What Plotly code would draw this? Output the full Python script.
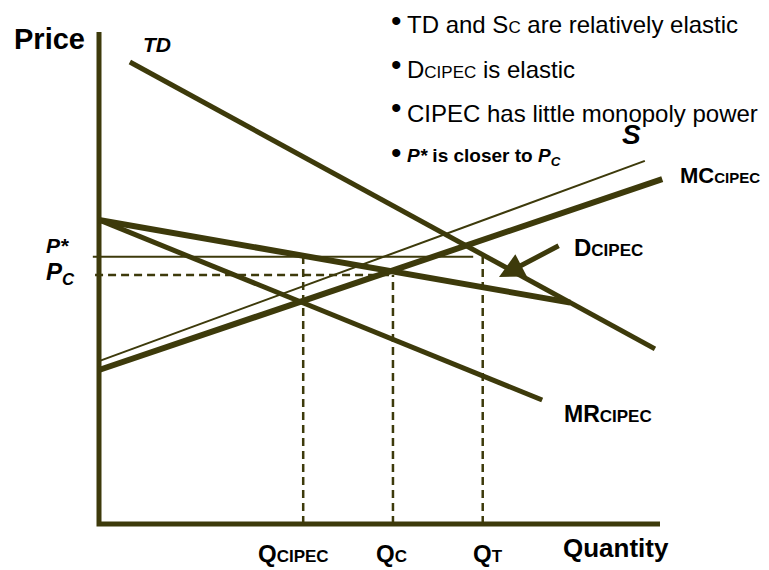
import plotly.graph_objects as go

# ---- data (quantity 0..100, price 0..100 in diagram units) ----
td_q = [5.5, 99.1]
td_p = [93.9, 35.6]
dcipec_q = [0.0, 84.0]
dcipec_p = [61.8, 45.0]
mr_q = [0.0, 79.0]
mr_p = [61.8, 25.2]
s_q = [0.0, 97.3]
s_p = [33.1, 73.8]
mc_q = [0.0, 100.4]
mc_p = [31.3, 70.1]

p_star = 54.3
p_c = 50.6
q_cipec = 36.4
q_c = 52.4
q_t = 68.4
p_star_line_q = [-1.1, 66.7]
p_c_line_q = [-0.7, q_c]

axis_q = [0.0, 0.0, 100.0]
axis_p = [100.0, 0.0, 0.0]

arrow_tip = (71.3, 50.2)
arrow_tail = (82.2, 56.7)

W, H = 769, 570
OFF = 8                      # page body margin
FW, FH = W - OFF, H - OFF    # figure size
# pixel mapping of the diagram units (page pixels)
X0, PXQ = 99.0, 5.61
Y0, PXP = 524.0, 4.92

COL = "#3d3a0b"
FONT = "Liberation Sans, Arial, sans-serif"

fig = go.Figure()

def line(q, p, width, dash="solid"):
    fig.add_trace(go.Scatter(x=q, y=p, mode="lines",
                             line=dict(color=COL, width=width, dash=dash),
                             hoverinfo="skip", showlegend=False))

# axes
line(axis_q, axis_p, 5)
# curves
line(td_q, td_p, 5)
line(s_q, s_p, 2)
line(mc_q, mc_p, 6)
line(dcipec_q, dcipec_p, 6)
line(mr_q, mr_p, 5)
# price levels
line(p_star_line_q, [p_star, p_star], 2)
line(p_c_line_q, [p_c, p_c], 2.5, dash="8px,5px")
# quantity drops
line([q_cipec, q_cipec], [0, p_star], 2.5, dash="8px,5px")
line([q_c, q_c], [0, p_c], 2.5, dash="8px,5px")
line([q_t, q_t], [0, p_star], 2.5, dash="8px,5px")

ann = []
def txt(px, py, text, size, xanchor="center", color="black"):
    ann.append(dict(x=(px - OFF) / FW, y=1 - (py - OFF) / FH, xref="paper", yref="paper",
                    text=text, showarrow=False, xanchor=xanchor, yanchor="middle",
                    font=dict(family=FONT, size=size, color=color)))

def small(t, size):
    return '<span style="font-size:%dpx">%s</span>' % (size, t)

txt(49, 39, "<b>Price</b>", 29)
txt(157, 45, "<b><i>TD</i></b>", 21)
txt(57, 245, "<b><i>P*</i></b>", 21)
txt(60, 274, "<b><i>P<sub>C</sub></i></b>", 24)
txt(631, 134, "<b><i>S</i></b>", 28)
txt(678, 176, "<b>MC" + small("CIPEC", 15) + "</b>", 22, xanchor="left")
txt(572, 247, "<b>D" + small("CIPEC", 17) + "</b>", 24, xanchor="left")
txt(562, 414, "<b>MR" + small("CIPEC", 17) + "</b>", 23, xanchor="left")
txt(616, 548, "<b>Quantity</b>", 26)
txt(293, 553, "<b>Q" + small("CIPEC", 17) + "</b>", 24)
txt(391, 553, "<b>Q" + small("C", 17) + "</b>", 24)
txt(488, 553, "<b>Q" + small("T", 17) + "</b>", 24)

bullets = ["TD and S" + small("C", 17) + " are relatively elastic",
           "D" + small("CIPEC", 17) + " is elastic",
           "CIPEC has little monopoly power",
           "<b><i>P*</i> is closer to <i>P<sub>C</sub></i></b>"]
bullet_y = [25, 69, 113, 157]
bullet_size = [24, 24, 24, 19]
for t, y, s in zip(bullets, bullet_y, bullet_size):
    txt(405, y, t, s, xanchor="left")
    txt(396, y - 5, "•", 30)

ann.append(dict(x=arrow_tip[0], y=arrow_tip[1], ax=arrow_tail[0], ay=arrow_tail[1],
                xref="x", yref="y", axref="x", ayref="y", text="",
                showarrow=True, arrowhead=2, arrowsize=1.0, arrowwidth=5,
                arrowcolor=COL))

fig.update_layout(
    width=FW, height=FH,
    margin=dict(l=0, r=0, t=0, b=0),
    paper_bgcolor="white", plot_bgcolor="white",
    xaxis=dict(range=[(OFF - X0) / PXQ, (W - X0) / PXQ], visible=False, fixedrange=True),
    yaxis=dict(range=[(Y0 - H) / PXP, (Y0 - OFF) / PXP], visible=False, fixedrange=True),
    annotations=ann,
    showlegend=False,
)

fig.write_html("out.html")
